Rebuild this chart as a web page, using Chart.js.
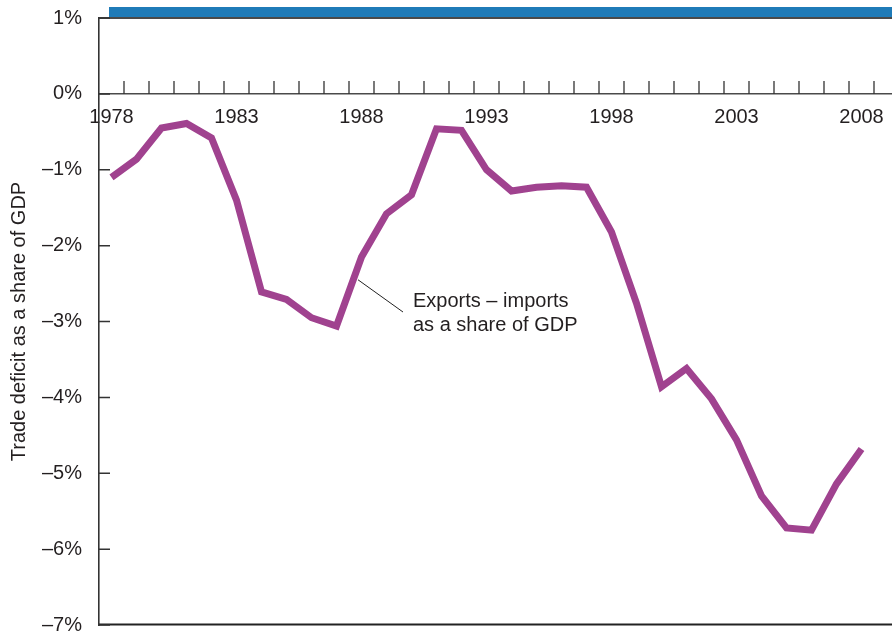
<!DOCTYPE html>
<html>
<head>
<meta charset="utf-8">
<script src="https://cdn.jsdelivr.net/npm/chart.js@4.4.1/dist/chart.umd.min.js"></script>
<style>
  html, body { margin: 0; padding: 0; background: #ffffff; }
  #wrap { width: 892px; height: 636px; position: relative; }
</style>
</head>
<body>
<div id="wrap"><canvas id="chart" width="892" height="636"></canvas></div>
<script>
// Net exports (exports – imports) as a share of GDP, by year
const years = [1978, 1979, 1980, 1981, 1982, 1983, 1984, 1985, 1986, 1987,
               1988, 1989, 1990, 1991, 1992, 1993, 1994, 1995, 1996, 1997,
               1998, 1999, 2000, 2001, 2002, 2003, 2004, 2005, 2006, 2007, 2008];
const netExportsShare = [-1.10, -0.86, -0.45, -0.39, -0.58, -1.40, -2.61, -2.71, -2.95, -3.06,
                         -2.15, -1.58, -1.33, -0.46, -0.48, -1.00, -1.28, -1.23, -1.21, -1.23,
                         -1.82, -2.76, -3.86, -3.62, -4.02, -4.56, -5.30, -5.72, -5.75, -5.14, -4.68];
const yearLabels = [1978, 1983, 1988, 1993, 1998, 2003, 2008];
const percentTicks = [1, 0, -1, -2, -3, -4, -5, -6, -7];

const seriesLabel = ['Exports \u2013 imports', 'as a share of GDP'];
const axisTitle = 'Trade deficit as a share of GDP';

const TEXT = '#231f20';
const RULE = '#333333';
const FONT = "'Liberation Sans', Arial, Helvetica, sans-serif";

function pct(v) {
  return (v < 0 ? '\u2013' + Math.abs(v) : String(v)) + '%';
}

// let the plot area run to the layout padding edges
function noEdgePadding(s) {
  s.paddingTop = 0;
  s.paddingBottom = 0;
  s.paddingLeft = 0;
  s.paddingRight = 0;
}

// Frame: header band, top/bottom rules and inward tick marks
const framePlugin = {
  id: 'frame',
  beforeDatasetsDraw(chart) {
    const { ctx, chartArea: a, scales: { x, y } } = chart;
    ctx.save();

    // blue header band
    ctx.fillStyle = '#1f7bb8';
    ctx.fillRect(a.left + 10, a.top - 11, a.right - a.left - 10, 10);

    // top rule at the axis maximum
    ctx.strokeStyle = '#4a4a4a';
    ctx.lineWidth = 2;
    ctx.beginPath();
    ctx.moveTo(a.left, y.getPixelForValue(y.max));
    ctx.lineTo(a.right, y.getPixelForValue(y.max));
    ctx.stroke();

    // bottom rule at the axis minimum
    ctx.strokeStyle = '#222222';
    ctx.beginPath();
    ctx.moveTo(a.left, y.getPixelForValue(y.min) - 0.5);
    ctx.lineTo(a.right, y.getPixelForValue(y.min) - 0.5);
    ctx.stroke();

    // y tick marks pointing into the plot
    ctx.strokeStyle = RULE;
    ctx.lineWidth = 1.5;
    ctx.beginPath();
    percentTicks.forEach(v => {
      const py = y.getPixelForValue(v);
      ctx.moveTo(a.left, py);
      ctx.lineTo(a.left + 11, py);
    });
    ctx.stroke();

    // x tick marks between years, standing on the zero line
    const y0 = y.getPixelForValue(0);
    ctx.lineWidth = 1.3;
    ctx.beginPath();
    for (let i = 0; i <= years.length; i++) {
      const v = years[0] + i + 0.5;
      const px = x.getPixelForValue(v);
      if (px > a.right) break;
      ctx.moveTo(px, y0);
      ctx.lineTo(px, y0 - 13);
    }
    ctx.stroke();
    ctx.restore();
  }
};

// Callout naming the series
const calloutPlugin = {
  id: 'callout',
  afterDatasetsDraw(chart) {
    const { ctx, scales: { x, y } } = chart;
    const sx = x.getPixelForValue(1987.86), sy = y.getPixelForValue(-2.45);
    const ex = x.getPixelForValue(1989.66), ey = y.getPixelForValue(-2.875);
    ctx.save();
    ctx.strokeStyle = '#222222';
    ctx.lineWidth = 1;
    ctx.beginPath();
    ctx.moveTo(sx, sy);
    ctx.lineTo(ex, ey);
    ctx.stroke();
    ctx.fillStyle = TEXT;
    ctx.font = '20px ' + FONT;
    ctx.textAlign = 'left';
    ctx.textBaseline = 'alphabetic';
    ctx.fillText(seriesLabel[0], ex + 10, ey - 5.5);
    ctx.fillText(seriesLabel[1], ex + 10, ey + 18.5);
    ctx.restore();
  }
};

new Chart(document.getElementById('chart'), {
  type: 'line',
  data: {
    datasets: [{
      label: seriesLabel.join(' '),
      data: years.map((yr, i) => ({ x: yr, y: netExportsShare[i] })),
      borderColor: '#a0428f',
      borderWidth: 7,
      borderJoinStyle: 'miter',
      borderCapStyle: 'butt',
      pointRadius: 0,
      tension: 0,
      fill: false
    }]
  },
  options: {
    responsive: false,
    animation: false,
    devicePixelRatio: 1,
    layout: { padding: { top: 18, right: 0, bottom: 11, left: 0 } },
    plugins: {
      legend: { display: false },
      tooltip: { enabled: false }
    },
    scales: {
      x: {
        type: 'linear',
        position: { y: 0 },
        min: 1977.5,
        max: 2009.22,
        afterBuildTicks: s => { s.ticks = yearLabels.map(v => ({ value: v })); },
        afterFit: noEdgePadding,
        grid: { display: false, drawTicks: false },
        border: { display: true, color: '#4a4a4a', width: 1.6 },
        ticks: {
          autoSkip: false,
          maxRotation: 0,
          padding: 12,
          color: TEXT,
          font: { family: FONT, size: 20 },
          callback: v => String(v)
        }
      },
      y: {
        type: 'linear',
        position: 'left',
        min: -7,
        max: 1,
        afterBuildTicks: s => { s.ticks = percentTicks.map(v => ({ value: v })); },
        afterFit: s => { s.width = 99; noEdgePadding(s); },
        grid: { display: false, drawTicks: false },
        border: { display: true, color: RULE, width: 1.6 },
        ticks: {
          padding: 17,
          color: TEXT,
          font: { family: FONT, size: 20 },
          callback: v => pct(v)
        },
        title: {
          display: true,
          text: axisTitle,
          color: TEXT,
          font: { family: FONT, size: 20 },
          padding: { top: 7, bottom: 0 }
        }
      }
    }
  },
  plugins: [framePlugin, calloutPlugin]
});
</script>
</body>
</html>
